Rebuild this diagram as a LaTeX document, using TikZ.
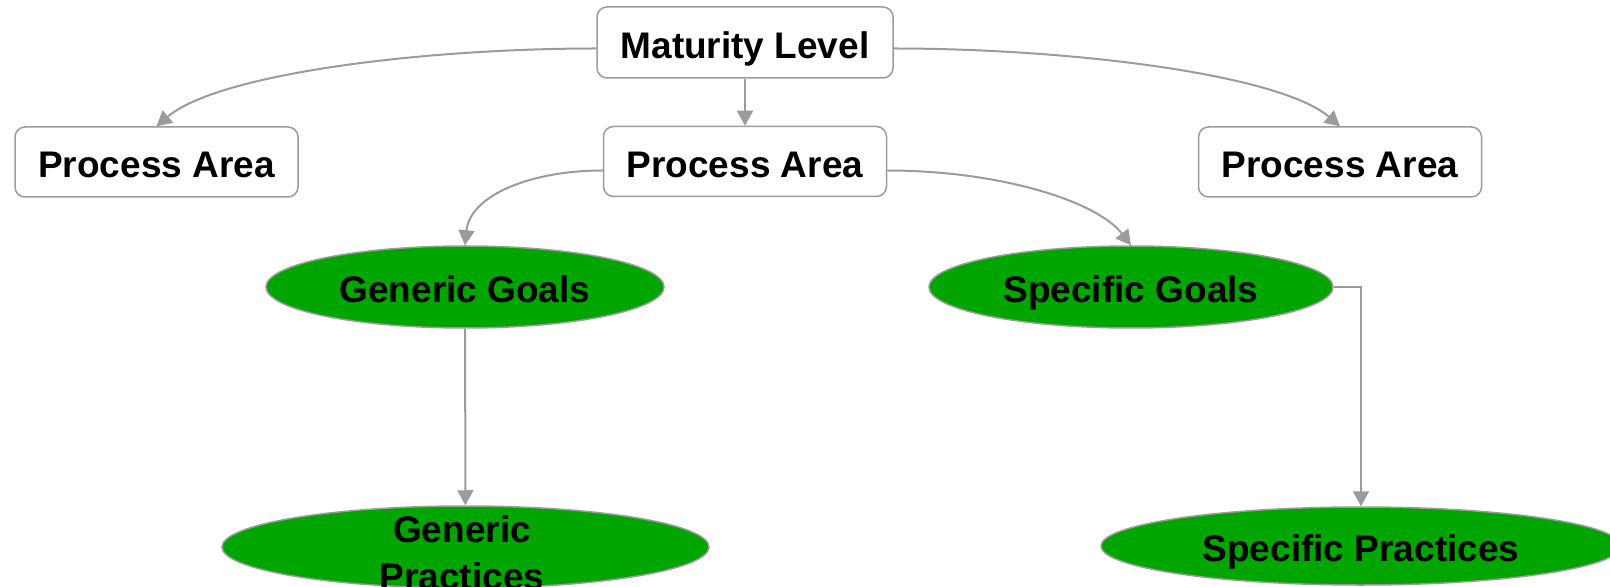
\documentclass[tikz,border=0pt]{standalone}
\usepackage{fontspec}
\setmainfont{Liberation Sans}
\usetikzlibrary{shapes.geometric, arrows.meta}

\definecolor{linegray}{RGB}{155,155,155}
\definecolor{goalgreen}{RGB}{0,165,0}

\begin{document}
\begin{tikzpicture} [x=0.5pt, y=-0.5pt, >={Triangle[length=7.5pt, width=8pt]},
        box/.style={draw=linegray, line width=0.75pt, rounded corners=5pt, fill=white, inner sep=0pt,
            minimum width=141.5pt, minimum height=35pt, text height=15.6pt, text depth=0pt,
            font=\bfseries\fontsize{18.5}{23.5}\selectfont},
        goal/.style={ellipse, draw=linegray, line width=0.75pt, fill=goalgreen, inner sep=0pt,
            minimum height=41pt, text height=15.6pt, text depth=0pt,
            font=\bfseries\fontsize{18.5}{23.5}\selectfont},
        link/.style={->, draw=linegray, line width=1pt}]
        \useasboundingbox (0,0) rectangle (1610,587);

        % top level and process areas
        \node[box, minimum width=148pt, minimum height=35.5pt] (ml) at (745,42.5) {Maturity Level};
        \node[box] (pa1) at (156.5,162) {Process Area};
        \node[box] (pa2) at (745,161.5) {Process Area};
        \node[box] (pa3) at (1340,162) {Process Area};

        % goals and practices
        \node[goal, minimum width=199pt] (gg) at (465,287) {Generic Goals};
        \node[goal, minimum width=202pt] (sg) at (1131,287) {Specific Goals};
        \node[goal, minimum width=243.5pt] (gp) at (465.5,547) {};
        \node[align=center, inner sep=0pt, font=\bfseries\fontsize{18.5}{23.5}\selectfont] (gplabel) at (462,553) {Generic\\Practices};
        \node[goal, minimum width=260pt, minimum height=39pt] (sp) at (1361,546) {Specific Practices};

        \draw[link] (ml) -- (pa2);
        \draw[link] ([yshift=-3pt]ml.west) .. controls +(-177,0) and +(61,-52) .. (pa1.north);
        \draw[link] ([yshift=-3pt]ml.east) .. controls +(177,0) and +(-61,-52) .. (pa3.north);

        \draw[link] ([yshift=-4.5pt]pa2.west) .. controls +(-72,0) and +(5,-50) .. (gg.north);
        \draw[link] ([yshift=-4.5pt]pa2.east) .. controls +(110,0) and +(-35,-45) .. (sg.north);

        \draw[link] (gg) -- (gp);
        \draw[link] (sg.east) -| (sp.north);
    \end{tikzpicture}
\end{document}
